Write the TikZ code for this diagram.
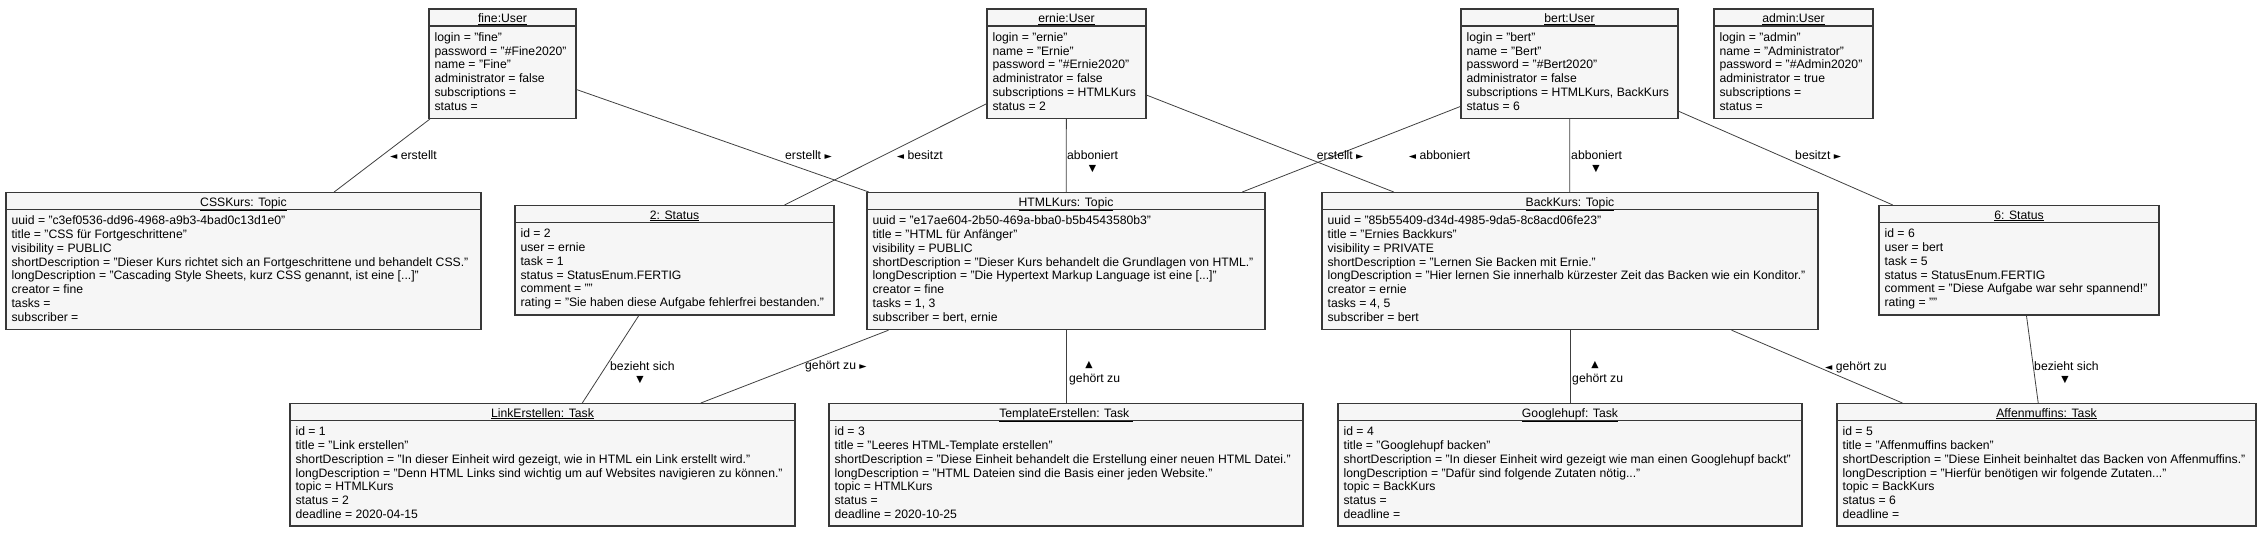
\documentclass[tikz,border=0pt]{standalone}
\usepackage{fontspec}
\setmainfont{Liberation Sans}
\newfontfamily\symfont{DejaVu Sans}
\usetikzlibrary{calc}
\definecolor{boxfill}{HTML}{F6F6F6}
\definecolor{boxdraw}{HTML}{383838}
\definecolor{conncol}{HTML}{404040}
\newcommand\trisym[1]{{\symfont\fontsize{9.5}{10}\selectfont #1}}
\newcommand\umlfont{\fontsize{12.2}{13.8}\selectfont}
\tikzset{
  objbox/.style={draw=boxdraw, fill=boxfill, line width=1.2pt, inner sep=0pt, anchor=north},
  objsep/.style={draw=boxdraw, line width=1.2pt},
  objtitle/.style={anchor=base, inner sep=0pt, font=\umlfont},
  objbody/.style={anchor=north west, inner sep=0pt, align=left, font=\umlfont},
  conn/.style={draw=conncol, line width=0.8pt},
  lab/.style={anchor=base west, inner sep=0pt, font=\umlfont},
  tri/.style={anchor=center, inner sep=0pt, font=\symfont\fontsize{9.5}{10}\selectfont},
}
% #1 name, #2 centre x, #3 top y, #4 width, #5 height, #6 title, #7 body
\newcommand\umlbox[7]{%
  \node[objbox, minimum width=#4pt, minimum height=#5pt] (#1) at (#2,-#3) {};
  \draw[objsep] ([yshift=-17.5pt]#1.north west) -- ([yshift=-17.5pt]#1.north east);
  \node[objtitle] (#1-title) at ([yshift=-14pt]#1.north) {\underline{#6}};
  \node[objbody] (#1-body) at ([xshift=6pt,yshift=-21.5pt]#1.north west) {\rule{0pt}{11pt}#7};
}
\begin{document}
\begin{tikzpicture}[x=1pt,y=1pt]
\useasboundingbox (0,0) rectangle (2266,-535);
% top row: users
\umlbox{fine}{502.5}{8.5}{147}{109.3}{fine:User}{login = "fine"\\password = "\#Fine2020"\\name = "Fine"\\administrator = false\\subscriptions =\\status =}
\umlbox{ernie}{1066.5}{8.5}{159}{109.3}{ernie:User}{login = "ernie"\\name = "Ernie"\\password = "\#Ernie2020"\\administrator = false\\subscriptions = HTMLKurs\\status = 2}
\umlbox{bert}{1569.5}{8.5}{217}{109.3}{bert:User}{login = "bert"\\name = "Bert"\\password = "\#Bert2020"\\administrator = false\\subscriptions = HTMLKurs, BackKurs\\status = 6}
\umlbox{admin}{1793.5}{8.5}{159}{109.3}{admin:User}{login = "admin"\\name = "Administrator"\\password = "\#Admin2020"\\administrator = true\\subscriptions =\\status =}
% middle row
\umlbox{css}{243.5}{192}{475}{137}{CSSKurs: Topic}{uuid = "c3ef0536-dd96-4968-a9b3-4bad0c13d1e0"\\title = "CSS für Fortgeschrittene"\\visibility = PUBLIC\\shortDescription = "Dieser Kurs richtet sich an Fortgeschrittene und behandelt CSS."\\longDescription = "Cascading Style Sheets, kurz CSS genannt, ist eine [...]"\\creator = fine\\tasks =\\subscriber =}
\umlbox{stattwo}{674.5}{205}{319}{109.3}{2: Status}{id = 2\\user = ernie\\task = 1\\status = StatusEnum.FERTIG\\comment = ""\\rating = "Sie haben diese Aufgabe fehlerfrei bestanden."}
\umlbox{html}{1066}{192}{398}{137}{HTMLKurs: Topic}{uuid = "e17ae604-2b50-469a-bba0-b5b4543580b3"\\title = "HTML für Anfänger"\\visibility = PUBLIC\\shortDescription = "Dieser Kurs behandelt die Grundlagen von HTML."\\longDescription = "Die Hypertext Markup Language ist eine [...]"\\creator = fine\\tasks = 1, 3\\subscriber = bert, ernie}
\umlbox{back}{1570}{192}{496}{137}{BackKurs: Topic}{uuid = "85b55409-d34d-4985-9da5-8c8acd06fe23"\\title = "Ernies Backkurs"\\visibility = PRIVATE\\shortDescription = "Lernen Sie Backen mit Ernie."\\longDescription = "Hier lernen Sie innerhalb kürzester Zeit das Backen wie ein Konditor."\\creator = ernie\\tasks = 4, 5\\subscriber = bert}
\umlbox{statsix}{2019}{205}{280}{109.3}{6: Status}{id = 6\\user = bert\\task = 5\\status = StatusEnum.FERTIG\\comment = "Diese Aufgabe war sehr spannend!"\\rating = ""}
% bottom row
\umlbox{link}{542.5}{403}{505}{122.3}{LinkErstellen: Task}{id = 1\\title = "Link erstellen"\\shortDescription = "In dieser Einheit wird gezeigt, wie in HTML ein Link erstellt wird."\\longDescription = "Denn HTML Links sind wichtig um auf Websites navigieren zu können."\\topic = HTMLKurs\\status = 2\\deadline = 2020-04-15}
\umlbox{templ}{1066}{403}{474}{122.3}{TemplateErstellen: Task\ }{id = 3\\title = "Leeres HTML-Template erstellen"\\shortDescription = "Diese Einheit behandelt die Erstellung einer neuen HTML Datei."\\longDescription = "HTML Dateien sind die Basis einer jeden Website."\\topic = HTMLKurs\\status =\\deadline = 2020-10-25}
\umlbox{google}{1570}{403}{464}{122.3}{Googlehupf: Task}{id = 4\\title = "Googlehupf backen"\\shortDescription = "In dieser Einheit wird gezeigt wie man einen Googlehupf backt"\\longDescription = "Dafür sind folgende Zutaten nötig..."\\topic = BackKurs\\status =\\deadline =}
\umlbox{affen}{2046.5}{403}{419}{122.3}{Affenmuffins: Task}{id = 5\\title = "Affenmuffins backen"\\shortDescription = "Diese Einheit beinhaltet das Backen von Affenmuffins."\\longDescription = "Hierfür benötigen wir folgende Zutaten..."\\topic = BackKurs\\status = 6\\deadline =}
% connectors
\draw[conn] (fine) -- (css);
\draw[conn] (fine) -- (html);
\draw[conn] (ernie) -- (stattwo);
\draw[conn] (ernie) -- (html);
\draw[conn] (ernie) -- (back);
\draw[conn] (bert) -- (html);
\draw[conn] (bert) -- (back);
\draw[conn] (bert) -- (statsix);
\draw[conn] (stattwo) -- (link);
\draw[conn] (html) -- (link);
\draw[conn] (html) -- (templ);
\draw[conn] (back) -- (google);
\draw[conn] (back) -- (affen);
\draw[conn] (statsix) -- (affen);
% labels
\node[lab] (l1) at (390,-159.4) {\trisym{◄} erstellt};
\node[lab] (l2) at (785,-159.4) {erstellt \trisym{►}};
\node[lab] (l3) at (896.6,-159.4) {\trisym{◄} besitzt};
\node[lab] (l4) at (1067,-159.4) {abboniert};
\node[tri] (l4t) at (1092.5,-169.5) {▼};
\node[lab] (l5) at (1316.7,-159.4) {erstellt \trisym{►}};
\node[lab] (l6) at (1408.6,-159.4) {\trisym{◄} abboniert};
\node[lab] (l7) at (1571,-159.4) {abboniert};
\node[tri] (l7t) at (1596,-169.5) {▼};
\node[lab] (l8) at (1795,-159.4) {besitzt \trisym{►}};
\node[lab] (l9) at (610,-370.4) {bezieht sich};
\node[tri] (l9t) at (640,-380.5) {▼};
\node[lab] (l10) at (805,-369.4) {gehört zu \trisym{►}};
\node[tri] (l11t) at (1089,-365) {▲};
\node[lab] (l11) at (1069,-382.4) {gehört zu};
\node[tri] (l12t) at (1595,-365) {▲};
\node[lab] (l12) at (1572,-382.4) {gehört zu};
\node[lab] (l13) at (1825,-370.4) {\trisym{◄} gehört zu};
\node[lab] (l14) at (2034,-370.4) {bezieht sich};
\node[tri] (l14t) at (2065,-380.5) {▼};
\end{tikzpicture}
\end{document}
